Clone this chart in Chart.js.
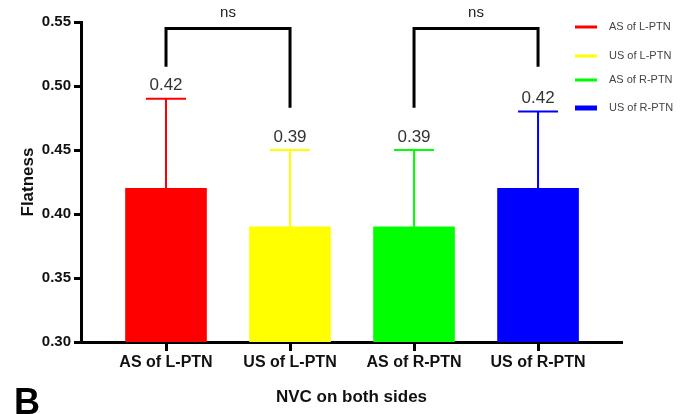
<!DOCTYPE html>
<html>
<head>
<meta charset="utf-8">
<script src="https://cdn.jsdelivr.net/npm/chart.js@4.4.0/dist/chart.umd.min.js"></script>
<style>
  html, body { margin: 0; padding: 0; background: #fff; }
  #wrap { width: 688px; height: 414px; }
</style>
</head>
<body>
<div id="wrap"><canvas id="flatChart" width="688" height="414"></canvas></div>
<script>
// data
const categories = ["AS of L-PTN", "US of L-PTN", "AS of R-PTN", "US of R-PTN"];
const means = [0.42, 0.39, 0.39, 0.42];
const errorTops = [0.49, 0.45, 0.45, 0.48];
const barColors = ["#ff0000", "#ffff00", "#00ff00", "#0000ff"];
const yTicks = [0.30, 0.35, 0.40, 0.45, 0.50, 0.55];
// significance brackets: [left index, right index, left leg end, right leg end, label]
const brackets = [
  [0, 1, 0.515, 0.483, "ns"],
  [2, 3, 0.483, 0.515, "ns"],
];
const bracketTop = 0.545;

const FONT = "Arial, 'Liberation Sans', sans-serif";

// error bars, value labels, brackets
const annotations = {
  id: "annotations",
  afterDatasetsDraw(chart) {
    const ctx = chart.ctx;
    const meta = chart.getDatasetMeta(0);
    const y = chart.scales.y;
    ctx.save();
    meta.data.forEach((bar, i) => {
      const top = y.getPixelForValue(errorTops[i]);
      ctx.strokeStyle = barColors[i];
      ctx.lineWidth = 2;
      ctx.beginPath();
      ctx.moveTo(bar.x, bar.y);
      ctx.lineTo(bar.x, top);
      ctx.moveTo(bar.x - 20, top);
      ctx.lineTo(bar.x + 20, top);
      ctx.stroke();

      ctx.fillStyle = "#333";
      ctx.font = "17px " + FONT;
      ctx.textAlign = "center";
      ctx.textBaseline = "middle";
      ctx.fillText(means[i].toFixed(2), bar.x, top - 13);
    });

    brackets.forEach((b) => {
      const x1 = meta.data[b[0]].x;
      const x2 = meta.data[b[1]].x;
      const yt = y.getPixelForValue(bracketTop);
      ctx.strokeStyle = "#000";
      ctx.lineWidth = 3;
      ctx.beginPath();
      ctx.moveTo(x1, y.getPixelForValue(b[2]));
      ctx.lineTo(x1, yt);
      ctx.lineTo(x2, yt);
      ctx.lineTo(x2, y.getPixelForValue(b[3]));
      ctx.stroke();
      ctx.fillStyle = "#222";
      ctx.font = "15px " + FONT;
      ctx.textAlign = "center";
      ctx.textBaseline = "middle";
      ctx.fillText(b[4], (x1 + x2) / 2, yt - 16);
    });
    ctx.restore();
  },
  afterDraw(chart) {
    const ctx = chart.ctx;
    ctx.save();
    // legend
    const rows = [27, 56, 80, 108];
    categories.forEach((c, i) => {
      ctx.fillStyle = barColors[i];
      const h = i === 3 ? 5 : 3;
      ctx.fillRect(575, rows[i] - h / 2, 22, h);
      ctx.fillStyle = "#444";
      ctx.font = "11px " + FONT;
      ctx.textAlign = "left";
      ctx.textBaseline = "middle";
      ctx.fillText(c, 609, rows[i]);
    });
    // panel letter
    ctx.fillStyle = "#000";
    ctx.font = "bold 36px " + FONT;
    ctx.textAlign = "left";
    ctx.textBaseline = "alphabetic";
    ctx.fillText("B", 14, 414);
    ctx.restore();
  },
};

new Chart(document.getElementById("flatChart"), {
  type: "bar",
  data: {
    datasets: [
      {
        data: means.map((v, i) => ({ x: i, y: v })),
        backgroundColor: barColors,
        borderWidth: 0,
        barThickness: 81,
      },
    ],
  },
  options: {
    responsive: false,
    animation: false,
    layout: { padding: { top: 22, right: 66, left: 0, bottom: 0 } },
    plugins: {
      legend: { display: false },
      tooltip: { enabled: false },
    },
    scales: {
      x: {
        type: "linear",
        offset: false,
        min: -0.6855,
        max: 3.677,
        afterBuildTicks: (s) => {
          s.ticks = categories.map((c, i) => ({ value: i }));
        },
        afterFit: (s) => {
          s.height = 72;
        },
        ticks: {
          callback: (v) => categories[v],
          color: "#111",
          font: { family: FONT, size: 16, weight: "bold" },
          padding: 2,
          maxRotation: 0,
          autoSkip: false,
        },
        grid: {
          offset: false,
          drawOnChartArea: false,
          drawTicks: true,
          tickLength: 9,
          tickWidth: 3,
          tickColor: "#000",
        },
        border: { display: true, color: "#000", width: 3 },
        title: {
          display: true,
          text: "NVC on both sides",
          color: "#111",
          font: { family: FONT, size: 17, weight: "bold" },
          padding: { top: 0, bottom: 6 },
        },
      },
      y: {
        min: 0.3,
        max: 0.55,
        afterBuildTicks: (s) => {
          s.ticks = yTicks.map((v) => ({ value: v }));
        },
        afterFit: (s) => {
          s.width = 81;
        },
        ticks: {
          callback: (v) => Number(v).toFixed(2),
          color: "#111",
          font: { family: FONT, size: 15, weight: "bold" },
          padding: 3,
        },
        grid: {
          drawOnChartArea: false,
          drawTicks: true,
          tickLength: 7,
          tickWidth: 3,
          tickColor: "#000",
        },
        border: { display: true, color: "#000", width: 3 },
        title: {
          display: true,
          text: "Flatness",
          color: "#111",
          font: { family: FONT, size: 17, weight: "bold" },
          padding: { top: 18, bottom: 0 },
        },
      },
    },
  },
  plugins: [annotations],
});
</script>
</body>
</html>
